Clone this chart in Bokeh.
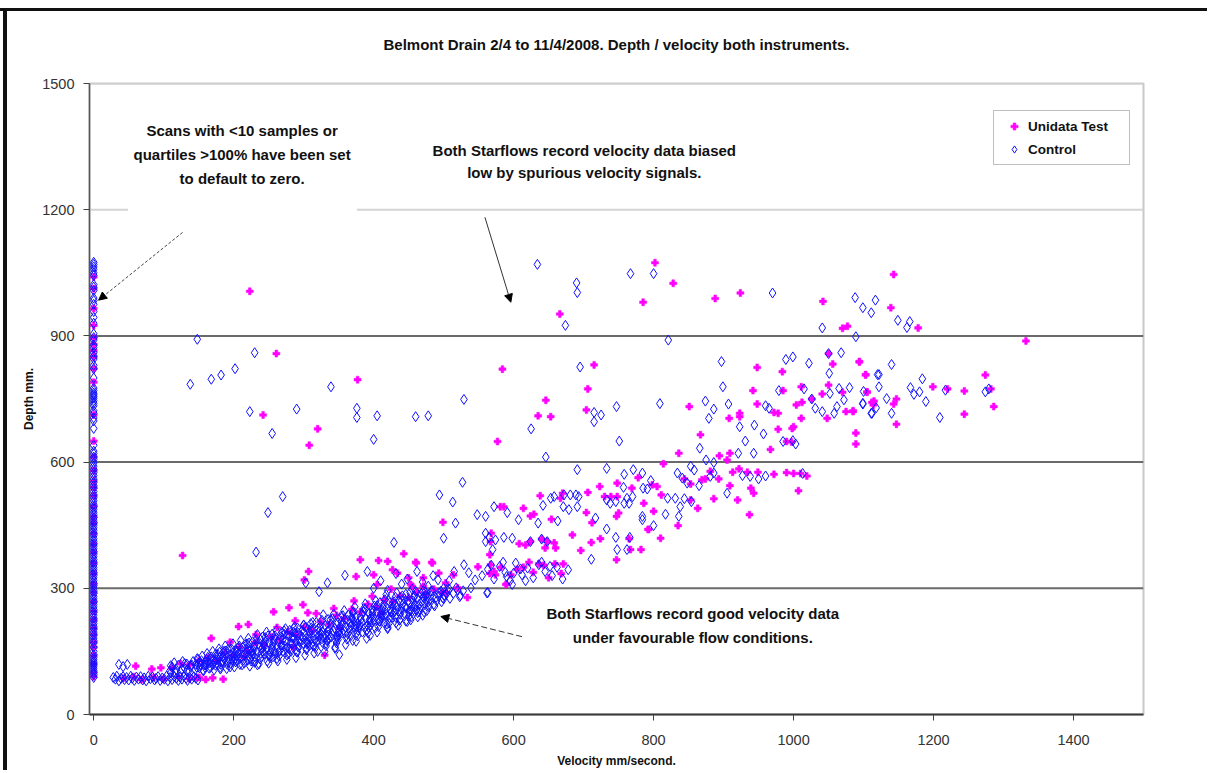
from bokeh.plotting import figure
from bokeh.models import Span, BoxAnnotation, Label, Arrow, NormalHead, Legend, LegendItem, Range1d
from bokeh.embed import file_html
from bokeh.resources import INLINE

TITLE = "Belmont Drain 2/4 to 11/4/2008. Depth / velocity both instruments."
X_LABEL = "Velocity mm/second."
Y_LABEL = "Depth mm."
SERIES = ["Unidata Test", "Control"]
x_ticks = [0, 200, 400, 600, 800, 1000, 1200, 1400]
y_ticks = [0, 300, 600, 900, 1200, 1500]

NOTE_ZERO = ["Scans with <10 samples or", "quartiles >100% have been set", "to default to zero."]
NOTE_BIASED = ["Both Starflows record velocity data biased", "low by spurious velocity signals."]
NOTE_GOOD = ["Both Starflows record good velocity data", "under favourable flow conditions."]

# ---- Control: depths of scans whose velocity was set to zero
ctrl_axis_y = [1075, 1070, 1064, 1058, 1050, 1044, 1022, 1016, 1008, 990, 984, 975, 958, 944, 930, 905, 896,
               890, 878, 872, 860, 852, 845, 830, 822, 800, 776, 770, 764, 760, 756, 752, 746, 740, 734, 722,
               716, 705, 698, 680, 640, 626, 620, 612, 606, 598, 590, 583, 575, 568, 560, 552, 545, 538, 530,
               522, 515, 508, 500, 494, 488, 481, 475, 468, 462, 456, 450, 444, 438, 431, 425, 418, 412, 406,
               400, 394, 388, 381, 375, 368, 362, 356, 350, 344, 338, 331, 325, 318, 312, 306, 300, 294, 288,
               281, 275, 268, 262, 256, 250, 243, 236, 229, 222, 216, 210, 203, 196, 189, 182, 176, 170, 160,
               150, 142, 135, 130, 125, 120, 115, 110, 105, 100, 95, 88]
# ---- Control scattered points (velocity, depth)
ctrl_scatter = [
    (148, 892), (230, 860), (202, 822), (182, 807), (168, 797), (138, 785), (339, 779), (529, 749), (223, 720),
    (290, 726), (376, 728), (376, 706), (405, 710), (460, 708), (478, 710), (255, 668), (400, 654), (527, 552),
    (270, 518), (249, 480), (494, 522), (513, 505), (517, 455), (548, 475), (232, 386), (429, 409), (500, 419),
    (634, 1070), (767, 1048), (800, 1048), (690, 1026), (691, 1003), (970, 1002), (1088, 991), (1099, 967),
    (1117, 985), (1111, 955), (674, 925), (1041, 919), (821, 890), (1089, 898), (695, 826), (715, 718),
    (725, 712), (715, 696), (747, 732), (809, 739), (751, 650), (646, 612), (625, 679), (897, 839), (899, 779),
    (989, 844), (999, 850), (1022, 835), (1050, 858), (1068, 860), (1051, 811), (1120, 808), (1052, 763),
    (1065, 775), (1080, 777), (1072, 748), (1062, 732), (1058, 716), (1031, 728), (1041, 720), (1099, 740),
    (1112, 716), (1122, 779), (1015, 774), (1026, 750), (979, 770), (960, 734), (965, 728), (985, 649),
    (999, 651), (1003, 643), (943, 621), (944, 688), (957, 667), (923, 684), (931, 650), (921, 621), (874, 745),
    (886, 726), (907, 738), (879, 704), (866, 633), (875, 605), (886, 599),
    (853, 590), (858, 581), (834, 574), (841, 562), (848, 550), (881, 566), (886, 574), (865, 544), (927, 568),
    (938, 566), (950, 560), (960, 567), (1013, 573), (905, 526), (844, 513), (854, 506), (838, 494), (820, 514),
    (831, 514), (800, 449), (784, 471), (784, 463), (796, 556), (785, 538), (791, 536), (770, 518), (762, 514),
    (758, 502), (765, 502), (757, 540), (746, 506), (738, 502), (771, 582), (784, 574), (758, 571), (733, 585),
    (733, 510), (689, 522), (693, 518), (681, 522), (672, 522), (691, 582), (679, 487), (691, 494), (653, 514),
    (658, 518), (671, 494), (642, 497), (663, 460), (635, 455), (607, 463), (591, 480), (572, 494), (560, 471),
    (711, 369), (717, 467), (733, 441), (746, 421), (748, 392), (762, 392), (766, 421), (817, 476), (836, 471),
    (560, 431), (560, 411), (565, 421), (570, 392), (574, 415), (586, 421), (598, 419), (624, 411), (640, 417),
    (648, 411), (562, 289), (598, 309),
    (1149, 937), (1166, 934), (1162, 920), (1140, 832), (1122, 808), (1184, 798), (1167, 777), (1172, 761),
    (1180, 767), (1217, 771), (1274, 767), (1279, 774), (1209, 706), (1189, 744), (1100, 768), (1099, 738),
    (1111, 716), (1133, 751), (1140, 716), (1118, 729),
    (555, 330), (563, 345), (572, 322), (580, 352), (588, 338), (595, 318), (603, 360), (612, 332), (620, 348),
    (628, 325), (636, 356), (645, 340), (655, 330), (662, 350), (670, 322), (678, 344), (585, 362), (600, 336),
    (617, 318), (640, 362), (652, 352), (610, 346), (568, 355), (590, 328),
    (400, 300), (410, 318), (420, 295), (432, 335), (440, 310), (448, 322), (455, 298), (462, 340), (470, 315),
    (478, 305), (485, 330), (492, 320), (500, 300), (508, 318), (515, 340), (520, 295), (524, 283), (529, 356),
    (536, 337), (539, 301), (545, 320), (563, 290), (471, 278), (463, 242), (453, 225), (322, 292), (303, 313),
    (334, 313), (359, 331), (391, 340), (351, 142), (110, 116), (36, 119), (48, 119), (42, 114),
]
# ---- Control: the flat run of slow, shallow readings
ctrl_flat = [
    (28, 88), (31, 84), (33, 91), (36, 80), (39, 86), (42, 90), (44, 83), (47, 88), (50, 82), (53, 91),
    (55, 86), (58, 81), (61, 89), (64, 84), (67, 90), (70, 82), (72, 87), (75, 80), (78, 91), (81, 85),
    (84, 89), (87, 82), (89, 86), (92, 90), (95, 81), (98, 87), (101, 84), (104, 91), (106, 80), (109, 88),
    (112, 83), (115, 90), (118, 86), (121, 81), (123, 89), (126, 84), (129, 91), (132, 86), (134, 81),
    (137, 88), (140, 84), (143, 90), (146, 86), (149, 82),
]
# ---- Control: the dense band of good readings (velocity, depth)
ctrl_band = [
    (109, 104), (110, 99), (112, 113), (115, 123), (117, 99), (118, 107), (121, 117), (124, 101), (126, 108),
    (127, 126), (130, 110), (130, 121), (133, 103), (133, 120), (136, 104), (138, 114), (139, 116), (142, 126),
    (145, 106), (146, 119), (148, 133), (149, 131), (151, 111), (152, 125), (153, 117), (155, 139), (156, 105),
    (157, 104), (158, 118), (160, 125), (161, 131), (162, 145), (163, 136), (165, 110), (166, 123), (167, 112),
    (168, 137), (170, 150), (171, 129), (172, 106), (174, 117), (174, 143), (175, 130), (177, 143), (178, 118),
    (179, 156), (181, 108), (181, 112), (183, 124), (184, 137), (185, 138), (186, 150), (188, 151), (188, 163),
    (190, 109), (191, 119), (192, 124), (193, 131), (195, 113), (195, 143), (197, 156), (199, 146), (199, 168),
    (201, 113), (202, 133), (203, 125), (204, 138), (206, 158), (206, 151), (208, 163), (209, 119), (210, 176),
    (212, 118), (213, 141), (214, 129), (215, 142), (216, 166), (217, 155), (219, 168), (220, 129), (221, 181),
    (223, 115), (223, 152), (225, 127), (226, 139), (227, 173), (228, 152), (230, 137), (230, 165), (232, 178),
    (234, 118), (234, 190), (236, 120), (237, 161), (238, 132), (239, 145), (241, 184), (241, 158), (243, 171),
    (244, 144), (245, 183), (247, 196), (248, 127), (250, 122), (251, 170), (252, 135), (253, 148), (255, 191),
    (255, 161), (257, 174), (258, 151), (259, 187), (261, 199), (262, 133), (263, 127), (265, 178), (265, 139),
    (266, 152), (268, 165), (269, 160), (270, 178), (272, 199), (272, 191), (274, 204), (276, 141), (276, 131),
    (278, 144), (279, 186), (279, 157), (281, 170), (283, 168), (283, 183), (285, 196), (286, 205), (287, 209),
    (289, 135), (290, 149), (291, 148), (292, 161), (293, 193), (294, 174), (296, 187), (297, 176), (298, 200),
    (300, 212), (300, 213), (302, 141), (304, 157), (304, 154), (305, 167), (307, 185), (307, 180), (309, 193),
    (311, 200), (311, 206), (313, 219), (314, 163), (315, 146), (317, 159), (318, 219), (318, 172), (320, 185),
    (321, 176), (322, 198), (324, 211), (325, 192), (326, 224), (328, 207), (328, 237), (330, 150), (332, 169),
    (332, 163), (333, 176), (335, 226), (335, 189), (337, 202), (339, 184), (339, 215), (341, 228), (342, 199),
    (343, 239), (345, 157), (346, 216), (347, 170), (348, 183), (349, 178), (350, 196), (352, 209), (353, 233),
    (354, 222), (356, 193), (356, 235), (358, 247), (360, 208), (360, 166), (362, 179), (363, 224), (363, 192),
    (365, 205), (367, 186), (367, 218), (369, 231), (370, 241), (371, 244), (373, 256), (374, 203), (375, 174),
    (377, 217), (377, 187), (378, 200), (380, 213), (381, 232), (382, 226), (384, 196), (384, 239), (386, 252),
    (388, 250), (388, 263), (390, 181), (391, 212), (392, 194), (393, 207), (395, 227), (395, 220), (397, 233),
    (398, 241), (399, 246), (401, 258), (402, 206), (403, 270), (405, 259), (405, 196), (407, 209), (408, 222),
    (409, 221), (410, 235), (412, 236), (412, 248), (414, 261), (416, 249), (416, 273), (418, 285), (419, 215),
    (420, 204), (422, 217), (423, 266), (423, 230), (425, 243), (426, 231), (427, 256), (429, 268), (430, 245),
    (431, 279), (433, 257), (433, 289), (435, 212), (437, 224), (437, 225), (438, 238), (440, 272), (440, 251),
    (442, 263), (444, 240), (444, 275), (446, 286), (447, 254), (448, 221), (450, 233), (451, 265), (452, 246),
    (454, 233), (454, 258), (456, 270), (458, 279), (458, 282), (460, 293), (461, 249), (463, 232), (465, 262),
    (465, 244), (467, 256), (468, 287), (469, 268), (471, 280), (472, 244), (473, 291), (475, 270), (476, 247),
    (478, 259), (479, 256), (480, 271), (482, 293), (482, 283), (484, 294), (486, 262), (487, 258), (489, 278),
    (490, 270), (493, 289), (493, 282), (496, 293), (497, 268), (500, 275), (501, 284), (504, 287), (505, 297),
    (508, 298), (509, 276), (514, 288), (518, 301), (523, 280), (528, 294),
    (140, 118), (160, 118), (184, 128), (205, 140), (226, 149), (247, 156), (268, 165), (289, 172), (310, 180),
    (331, 190), (352, 200), (373, 212), (394, 224), (415, 235), (436, 246), (457, 256), (478, 268), (499, 277),
    (180, 135), (200, 126), (222, 138), (243, 165), (264, 148), (285, 182), (306, 170), (327, 196), (348, 186),
    (369, 228), (390, 200), (411, 242), (432, 218), (453, 248), (474, 283), (250, 142), (275, 155), (300, 168),
    (325, 180), (350, 195), (375, 210), (400, 222), (425, 244), (450, 243), (477, 280), (320, 150), (345, 160),
    (370, 176), (395, 188), (420, 207), (446, 222), (470, 236), (230, 124), (256, 137), (282, 150), (308, 163),
    (334, 176),
    (147, 113), (150, 122), (154, 128), (159, 112), (163, 122), (167, 131), (170, 118), (173, 126), (176, 135),
    (180, 148), (182, 119), (187, 131), (189, 142), (192, 155), (196, 121), (198, 133), (200, 139), (203, 150),
    (205, 128), (207, 145), (210, 135), (213, 160), (215, 122), (218, 147), (220, 158), (222, 170), (224, 133),
    (227, 144), (229, 159), (231, 126), (233, 150), (235, 168), (238, 178), (240, 138), (242, 150), (244, 162),
    (246, 175), (249, 187), (251, 140), (254, 156), (256, 168), (258, 180), (260, 145), (262, 160), (264, 172),
    (267, 184), (269, 196), (271, 150), (273, 163), (275, 176), (277, 188), (280, 200), (282, 156), (284, 168),
    (286, 181), (288, 193), (291, 206), (293, 160), (295, 171), (298, 184), (300, 196), (303, 208), (305, 173),
    (308, 198), (310, 216), (312, 167), (316, 178), (319, 191), (321, 205), (323, 188), (327, 171), (329, 184),
    (331, 211), (334, 198), (336, 180), (338, 225), (340, 193), (344, 205), (346, 176), (349, 218), (351, 189),
    (355, 212), (357, 201), (359, 226), (361, 187), (364, 236), (366, 199), (368, 210), (372, 221), (374, 232),
    (376, 194), (379, 207), (383, 218), (385, 245), (387, 206), (389, 229), (393, 240), (396, 213), (398, 250),
    (400, 232), (404, 244), (406, 225), (409, 266), (411, 229), (413, 254), (415, 218), (418, 238), (421, 272),
    (424, 250), (427, 238), (430, 262), (432, 230), (436, 270), (439, 244), (441, 282), (445, 257), (449, 268),
    (452, 290), (455, 245), (459, 262), (462, 275), (466, 250), (470, 292),
]

# ---- Unidata Test: depths of scans whose velocity was set to zero
test_axis_y = [1040, 1012, 965, 925, 895, 880, 865, 850, 822, 790, 712, 650, 612, 580, 555, 540, 520, 495,
               470, 455, 430, 405, 385, 360, 335, 310, 290, 268, 245, 225, 205, 190, 172, 160, 140, 120, 100, 90]
test_scatter = [
    (223, 1006), (261, 858), (377, 796), (242, 712), (320, 679), (308, 640),
    (802, 1074), (828, 1025), (785, 980), (888, 989), (924, 1002), (1042, 982), (666, 952), (1070, 918),
    (1077, 923), (584, 821), (715, 831), (706, 774), (646, 747), (635, 710), (653, 708), (577, 649), (704, 724),
    (948, 825), (984, 815), (1050, 858), (1056, 833), (1094, 839), (1103, 807), (1050, 783), (1041, 762),
    (1070, 766), (1105, 767), (1075, 720), (1085, 720), (1048, 704), (1089, 669), (1089, 643), (1115, 745),
    (1011, 779), (1004, 736), (1012, 742), (1026, 750), (985, 770), (942, 770), (948, 738), (972, 718),
    (978, 716), (1011, 704), (1000, 684), (998, 680), (978, 678), (990, 649), (997, 648), (967, 630), (923, 716),
    (923, 708), (908, 704), (909, 621), (905, 605), (894, 615), (851, 732), (867, 665), (836, 621),
    (814, 596), (844, 560), (853, 548), (869, 558), (874, 560), (881, 578), (893, 560), (909, 544), (913, 576),
    (922, 584), (934, 576), (949, 576), (972, 571), (990, 575), (1000, 573), (1010, 573), (1019, 567),
    (939, 538), (943, 526), (886, 513), (920, 510), (1007, 532), (937, 475), (863, 490), (835, 449), (811, 522),
    (810, 419), (805, 542), (798, 546), (792, 440), (800, 483), (786, 502), (778, 563), (769, 538), (748, 550),
    (750, 479), (747, 471), (723, 542), (730, 518), (739, 518), (748, 518), (706, 528), (704, 480), (670, 526),
    (667, 514), (638, 520), (654, 464), (629, 476), (624, 472), (614, 490), (581, 494), (586, 494), (684, 427),
    (696, 390), (711, 409), (724, 418), (712, 456), (747, 368), (765, 418), (767, 392), (782, 392), (793, 440),
    (853, 510),
    (568, 431), (567, 411), (566, 380), (608, 406), (617, 403), (624, 411), (640, 417), (648, 411), (658, 408),
    (660, 396), (645, 396),
    (1143, 1046), (1139, 967), (1178, 919), (1332, 888), (1094, 838), (1103, 808), (1199, 779), (1220, 774),
    (1244, 769), (1274, 807), (1282, 774), (1286, 732), (1244, 714), (1105, 766), (1112, 742), (1114, 736),
    (1085, 722), (1147, 750), (1143, 738), (1147, 690),
    (668, 335), (671, 358), (659, 358), (643, 355), (636, 358), (628, 338), (614, 350), (605, 345), (596, 332),
    (582, 350), (572, 340), (590, 310), (566, 335), (650, 325), (622, 362),
    (127, 378), (168, 181), (207, 209), (257, 244), (279, 254), (299, 261), (306, 242), (307, 340), (301, 320),
    (375, 328), (381, 368), (407, 366), (420, 364), (443, 382), (460, 362), (483, 362), (400, 332), (427, 344),
    (434, 336), (461, 360), (484, 360), (493, 336), (405, 309), (450, 325), (453, 309), (471, 325), (471, 305),
    (503, 313), (514, 332), (520, 301), (549, 351), (567, 356), (574, 332), (589, 309), (534, 278), (504, 290),
    (330, 141), (160, 83), (60, 115), (83, 108), (96, 111), (148, 88), (499, 457), (221, 214),
]
test_band = [
    (42, 86), (57, 90), (68, 83), (86, 88), (99, 84), (121, 89), (137, 85), (151, 88), (170, 87), (185, 84),
    (112, 110), (124, 121), (137, 118), (150, 128), (163, 135), (176, 128), (187, 147), (199, 140), (208, 160),
    (219, 152), (231, 171), (243, 164), (254, 185), (266, 177), (278, 197), (290, 190), (301, 208), (312, 199),
    (324, 221), (336, 214), (347, 236), (358, 228), (369, 250), (381, 244), (392, 262), (404, 256), (415, 273),
    (427, 268), (438, 282), (450, 278), (462, 291), (474, 286), (486, 298), (498, 290),
    (195, 172), (232, 190), (262, 207), (288, 223), (318, 240), (343, 252), (372, 270), (398, 281), (425, 298),
    (455, 305), (215, 136), (285, 160), (352, 205), (410, 240),
]

ctrl_pts = [(0, d) for d in ctrl_axis_y] + ctrl_scatter + ctrl_flat + ctrl_band
test_pts = [(0, d) for d in test_axis_y] + test_scatter + test_band
ctrl_x = [a for a, b in ctrl_pts]
ctrl_y = [b for a, b in ctrl_pts]
test_x = [a for a, b in test_pts]
test_y = [b for a, b in test_pts]

FONT = "Liberation Sans"

p = figure(width=1207, height=770, x_range=Range1d(-6, 1500), y_range=Range1d(0, 1500),
           output_backend="svg", toolbar_location=None,
           min_border_left=89, min_border_right=64, min_border_top=83, min_border_bottom=55)
# page frame lines (top and left) of the scanned chart, drawn behind a transparent border area
p.styles = {"background": "linear-gradient(#111111, #111111) 0px 8px / 100% 3px no-repeat, "
                          "linear-gradient(#111111, #111111) 3px 8px / 4px 100% no-repeat, white"}
p.background_fill_color = "white"
p.border_fill_color = "white"
p.border_fill_alpha = 0
p.outline_line_color = "#c8c8c8"
p.outline_line_width = 2
p.xgrid.visible = False
p.ygrid.visible = False

p.title.text = TITLE
p.title.align = "center"
p.title.text_font = FONT
p.title.text_font_size = "15px"
p.title.text_font_style = "bold"
p.title.text_color = "#111111"
p.title.standoff = 62

for ax in (p.xaxis[0], p.yaxis[0]):
    ax.major_label_text_font = FONT
    ax.major_label_text_font_size = "14.5px"
    ax.major_label_text_color = "#333333"
    ax.axis_label_text_font = FONT
    ax.axis_label_text_font_size = "12px"
    ax.axis_label_text_font_style = "bold"
    ax.axis_label_text_color = "#111111"
    ax.major_tick_out = 6
    ax.major_tick_in = 0
    ax.minor_tick_out = 0
    ax.minor_tick_in = 0
    ax.major_tick_line_color = "#404040"

p.xaxis.ticker = x_ticks
p.yaxis.ticker = y_ticks
p.xaxis.axis_label = X_LABEL
p.yaxis.axis_label = Y_LABEL
p.xaxis.axis_line_color = "#3a3a3a"
p.xaxis.axis_line_width = 2
p.yaxis.axis_line_color = "#555555"
p.yaxis.axis_line_width = 1.5
p.xaxis.major_label_standoff = 14
p.xaxis.axis_label_standoff = 6
p.yaxis.major_label_standoff = 9
p.yaxis.axis_label_standoff = 3

for v in y_ticks[1:]:
    if v <= 900:
        p.add_layout(Span(location=v, dimension="width", line_color="#6a6a6a", line_width=2, level="underlay"))
    else:
        p.add_layout(Span(location=v, dimension="width", line_color="#d4d4d4", line_width=2, level="underlay"))

test_r = p.scatter(test_x, test_y, marker="plus", size=7, fill_color="#ff00ff", line_color="#ff00ff",
                   line_width=0.5)
ctrl_r = p.scatter(ctrl_x, ctrl_y, marker="diamond", size=10, fill_color=None, line_color="#1010ff",
                   line_width=1)

# white text box behind the first note
p.add_layout(BoxAnnotation(left=49, right=376, bottom=1187, top=1448, fill_color="white", fill_alpha=1.0,
                           line_alpha=0))

def note(lines, cx, ys):
    for t, yy in zip(lines, ys):
        p.add_layout(Label(x=cx, y=yy, text=t, text_align="center", text_baseline="middle",
                           text_font=FONT, text_font_size="15px", text_font_style="bold",
                           text_color="#111111"))

note(NOTE_ZERO, 212, [1388, 1332, 1275])
note(NOTE_BIASED, 701, [1341, 1289])
note(NOTE_GOOD, 856, [240, 183])

p.add_layout(Arrow(end=NormalHead(size=8, fill_color="black", line_color="black"),
                   x_start=127, y_start=1146, x_end=7, y_end=985,
                   line_color="#444444", line_width=1, line_dash="3 2"))
p.add_layout(Arrow(end=NormalHead(size=8, fill_color="black", line_color="black"),
                   x_start=559, y_start=1182, x_end=596, y_end=980,
                   line_color="#333333", line_width=1))
p.add_layout(Arrow(end=NormalHead(size=8, fill_color="black", line_color="black"),
                   x_start=612, y_start=185, x_end=496, y_end=233,
                   line_color="#333333", line_width=1, line_dash="6 3"))

legend = Legend(items=[LegendItem(label=SERIES[0], renderers=[test_r]),
                       LegendItem(label=SERIES[1], renderers=[ctrl_r])],
                location=(904, 549), orientation="vertical")
legend.border_line_color = "#808080"
legend.border_line_width = 1
legend.background_fill_color = "white"
legend.background_fill_alpha = 1
legend.label_text_font = FONT
legend.label_text_font_size = "13.5px"
legend.label_text_font_style = "bold"
legend.label_text_color = "#111111"
legend.padding = 6
legend.spacing = 5
legend.margin = 0
legend.glyph_height = 18
legend.label_height = 18
legend.glyph_width = 28
legend.label_standoff = 0
legend.label_width = 95
p.add_layout(legend)

open("out.html", "w").write(file_html(p, INLINE))
